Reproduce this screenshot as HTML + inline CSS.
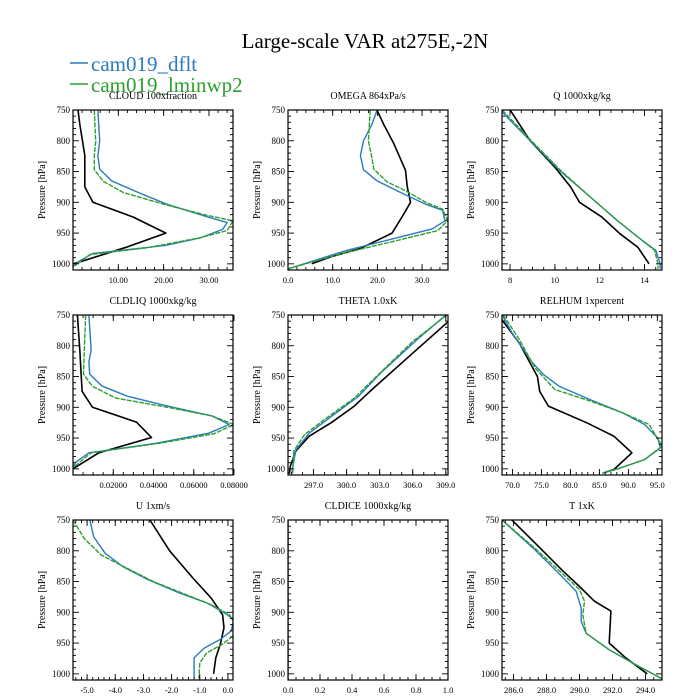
<!DOCTYPE html>
<html><head><meta charset="utf-8">
<style>
html,body{margin:0;padding:0;background:#fff;}
svg{display:block;font-family:"Liberation Serif",serif;}
</style></head>
<body>
<svg id="chart" width="700" height="700" viewBox="0 0 700 700">
<text x="365" y="48" font-size="21" text-anchor="middle">Large-scale VAR at275E,-2N</text>
<g>
<line x1="70" y1="63" x2="88" y2="63" stroke="#2b7bbd" stroke-width="1.5"/>
<text x="91" y="71" font-size="21" fill="#2b7bbd">cam019_dflt</text>
<line x1="70" y1="84" x2="88" y2="84" stroke="#2ca02c" stroke-width="1.5"/>
<text x="91" y="92" font-size="21" fill="#2ca02c">cam019_lminwp2</text>
</g>
</svg>
<script>
// ---- data (pressure in hPa, values in panel units) ----
const cloudBlkP=[750,773,824,875,900,924,950,973,1000];
const cloudBlkX=[1.1,1.5,2.6,2.6,4.4,13.3,20.5,11.8,0.15];
const cloudBluP=[750,800,824,846,865,884,903,922,933,944,958,970,983,995,1005];
const cloudBluX=[5.5,5.9,5.5,5.9,8.5,14.4,20.7,28.9,34,33,28,20.4,4.4,1.5,0];
const cloudGrnP=[750,802,824,847,866,884,903,920,930,946,958,974,985,1003];
const cloudGrnX=[4.7,5,4.7,4.7,6.7,11.1,20,28.9,35.3,34,27.8,16.3,3.7,0.4];

const omegaBlkP=[750,773,805,848,875,900,919,950,975,989,1000];
const omegaBlkX=[19.9,21.4,23.7,26.3,26.7,27.4,25.9,23.3,16.2,9.4,5.3];
const omegaBluP=[751,773,800,824,847,865,884,903,913,930,943,959,978,1008];
const omegaBluX=[19.9,18.8,16.9,16.2,16.9,19.9,25.2,30.8,34.6,35.1,32.3,23.7,13.2,0];
const omegaGrnP=[750,800,821,846,867,881,900,911,930,946,962,984,1008];
const omegaGrnX=[18.4,18.0,18.6,19.2,22.2,26.3,30.8,34.6,35.7,33.5,24.4,11.7,0];

const qBlkP=[750,800,843,875,900,924,951,973,1000];
const qBlkX=[8.0,8.9,10.0,10.7,11.1,12.1,12.9,13.7,14.2];
const qBluP=[751,800,848,892,930,962,978,1000,1008];
const qBluX=[7.58,8.9,10.2,11.6,12.8,13.9,14.5,14.7,14.7];
const qGrnP=[750,800,848,892,930,962,978,1000,1008];
const qGrnX=[7.65,8.95,10.25,11.6,12.8,13.9,14.45,14.6,14.6];

const liqBlkP=[750,807,874,900,924,949,974,1000];
const liqBlkX=[0.0022,0.0034,0.0045,0.0097,0.0315,0.039,0.0128,0];
const liqBluP=[750,807,826,846,865,882,898,914,928,942,959,974,990,1001];
const liqBluX=[0.0079,0.009,0.0079,0.0083,0.0142,0.027,0.047,0.069,0.0776,0.0675,0.0405,0.0079,0.001,0];
const liqGrnP=[750,807,846,866,885,900,914,928,943,958,974,996];
const liqGrnX=[0.0063,0.0056,0.0052,0.0097,0.0213,0.047,0.069,0.08,0.07,0.0438,0.009,0.0008];

const thBlkP=[761,812,871,898,925,947,971,995,1008];
const thBlkX=[309.2,306,302.3,300.7,298.6,296.6,295.4,294.9,294.8];
const thBluP=[750,790,844,882,915,942,969,1008];
const thBluX=[309,306.4,303.1,301.1,298.6,296.6,295.4,295.0];
const thGrnP=[750,793,850,885,917,944,971,1008];
const thGrnX=[309.1,306,302.7,300.7,298.2,296.2,295.2,295.1];

const rhBlkP=[758,796,850,874,898,925,947,974,1001,1006];
const rhBlkX=[68.2,71.2,74.3,74.7,76.2,82.8,87.5,90.6,87.5,85.9];
const rhBluP=[750,780,828,847,866,888,909,928,950,966,985,1000,1007];
const rhBluX=[68.2,70,73.5,75.4,78.1,83.5,89,92.8,95.1,95.5,92.8,88.2,85.5];
const rhGrnP=[750,790,836,871,890,909,928,963,985,1000,1007];
const rhGrnX=[68.4,71.2,73.9,77.3,83.5,89,93.6,95.8,92.8,88.2,85.5];

const uBlkP=[750,800,845,877,904,925,952,974,1000];
const uBlkX=[-2.77,-2.07,-1.23,-0.59,-0.19,-0.14,-0.27,-0.43,-0.51];
const uBluP=[750,777,804,826,847,869,885,902,912,930,944,958,974,1007];
const uBluX=[-4.9,-4.77,-4.36,-3.72,-2.83,-1.7,-0.73,-0.09,0.2,0.12,-0.27,-0.83,-1.2,-1.2];
const uGrnP=[750,780,807,828,850,871,888,904,920,936,952,966,982,1007];
const uGrnX=[-5.5,-5.1,-4.5,-3.6,-2.65,-1.5,-0.58,0.06,0.25,0.25,-0.2,-0.75,-1,-1.03];

const iceP=[750,1010];
const iceX=[0,0];

const tBlkP=[750,790,833,858,882,898,950,974,1000];
const tBlkX=[285.9,287.4,289.0,290.0,290.9,291.9,291.8,292.8,294.1];
const tBluP=[750,796,838,866,893,915,934,961,985,1008];
const tBluX=[285.3,287.2,288.8,289.8,290.1,290.1,290.4,291.8,293.4,295.0];
const tGrnP=[750,796,838,863,882,904,934,961,985,1008];
const tGrnX=[285.3,287.3,289.0,290.0,290.3,290.2,290.4,291.8,293.4,295.0];

const panelTitles=["CLOUD  100xfraction","OMEGA  864xPa/s","Q  1000xkg/kg","CLDLIQ  1000xkg/kg","THETA  1.0xK","RELHUM  1xpercent","U  1xm/s","CLDICE  1000xkg/kg","T  1xK"];
const panelNames=["cloud","omega","q","cldliq","theta","relhum","u","cldice","t"];
const xRanges=[[0,35.3],[0,35.8],[7.64,14.78],[0,0.0795],[294.68,309.2],[68.2,95.8],[-5.5,0.18],[0,1],[285.3,295.0]];
const xTicks=[[10,20,30],[0,10,20,30],[8,10,12,14],[0.02,0.04,0.06,0.08],[297,300,303,306,309],[70,75,80,85,90,95],[-5,-4,-3,-2,-1,0],[0,0.2,0.4,0.6,0.8,1.0],[286,288,290,292,294]];
const xDigits=[2,1,0,5,1,1,1,1,1];
const xMinor=[2,2,0.5,0.005,1,1,0.2,0.05,0.5];
const series=[
 [[cloudBlkP,cloudBlkX],[cloudBluP,cloudBluX],[cloudGrnP,cloudGrnX]],
 [[omegaBlkP,omegaBlkX],[omegaBluP,omegaBluX],[omegaGrnP,omegaGrnX]],
 [[qBlkP,qBlkX],[qBluP,qBluX],[qGrnP,qGrnX]],
 [[liqBlkP,liqBlkX],[liqBluP,liqBluX],[liqGrnP,liqGrnX]],
 [[thBlkP,thBlkX],[thBluP,thBluX],[thGrnP,thGrnX]],
 [[rhBlkP,rhBlkX],[rhBluP,rhBluX],[rhGrnP,rhGrnX]],
 [[uBlkP,uBlkX],[uBluP,uBluX],[uGrnP,uGrnX]],
 [null,[iceP,iceX],[iceP,iceX]],
 [[tBlkP,tBlkX],[tBluP,tBluX],[tGrnP,tGrnX]]
];
const yTicks=[750,800,850,900,950,1000];

const NS="http://www.w3.org/2000/svg";
const svg=document.getElementById('chart');
function mk(tag,attrs,parent){const e=document.createElementNS(NS,tag);for(const k in attrs)e.setAttribute(k,attrs[k]);parent.appendChild(e);return e;}
const lefts=[73,288,502], tops=[110,315,520], W=160, H=160, P0=750, P1=1010;
const colors=["#000","#2b7bbd","#2ca02c"], sNames=["obs","dflt","lminwp2"];

for(let i=0;i<9;i++){
  const L=lefts[i%3], T=tops[Math.floor(i/3)];
  const [x0,x1]=xRanges[i];
  const sx=v=>L+(v-x0)/(x1-x0)*W;
  const sy=p=>T+(p-P0)/(P1-P0)*H;
  const g=mk('g',{},svg);
  
  
  const tt=mk('text',{x:L+W/2,y:T-11,'font-size':10,'text-anchor':'middle'},g);
  tt.textContent=panelTitles[i];
  
  
  const yl=mk('text',{x:0,y:0,'font-size':10,'text-anchor':'middle',transform:`translate(${L-28},${T+H/2}) rotate(-90)`},g);
  yl.textContent="Pressure [hPa]";
  
  
  const cp=mk('clipPath',{id:'cp'+i},g);
  mk('rect',{x:L,y:T,width:W,height:H},cp);
  const sg=mk('g',{'clip-path':`url(#cp${i})`},g);
  series[i].forEach((s,k)=>{
    if(!s) return;
    const [pp,xx]=s;
    const pts=pp.map((p,j)=>sx(xx[j]).toFixed(1)+','+sy(p).toFixed(1)).join(' ');
    const pl=mk('polyline',{points:pts,fill:'none',stroke:colors[k],'stroke-width':k==0?1.6:1.4,'stroke-linejoin':'round'},sg);
    if(k==2) pl.setAttribute('stroke-dasharray','5,1.2');
    
    
  });
  for(let p=750;p<=1010;p+=10){
    const y=sy(p), len=(p%50==0)?6:3;
    mk('line',{x1:L,y1:y,x2:L+len,y2:y,stroke:'#000','stroke-width':0.9},g);
    mk('line',{x1:L+W,y1:y,x2:L+W-len,y2:y,stroke:'#000','stroke-width':0.9},g);
  }
  yTicks.forEach(p=>{
    const t=mk('text',{x:L-3,y:sy(p)+3,'font-size':9,'text-anchor':'end'},g);
    t.textContent=p;
    
    
  });
  const mn=xMinor[i];
  for(let v=Math.ceil(x0/mn)*mn; v<=x1+1e-9; v+=mn){
    const x=sx(v);
    mk('line',{x1:x,y1:T,x2:x,y2:T+3,stroke:'#000','stroke-width':0.9},g);
    mk('line',{x1:x,y1:T+H,x2:x,y2:T+H-3,stroke:'#000','stroke-width':0.9},g);
  }
  xTicks[i].forEach(v=>{
    const x=sx(v);
    mk('line',{x1:x,y1:T,x2:x,y2:T+6,stroke:'#000','stroke-width':0.9},g);
    mk('line',{x1:x,y1:T+H,x2:x,y2:T+H-6,stroke:'#000','stroke-width':0.9},g);
    const t=mk('text',{x:x,y:T+H+13,'font-size':8.5,'text-anchor':'middle'},g);
    t.textContent=v.toFixed(xDigits[i]);
    
    
  });
  const fr=mk('rect',{x:L,y:T,width:W,height:H,fill:'none',stroke:'#000','stroke-width':1.2},g);
  
  
}
</script>
</body></html>
